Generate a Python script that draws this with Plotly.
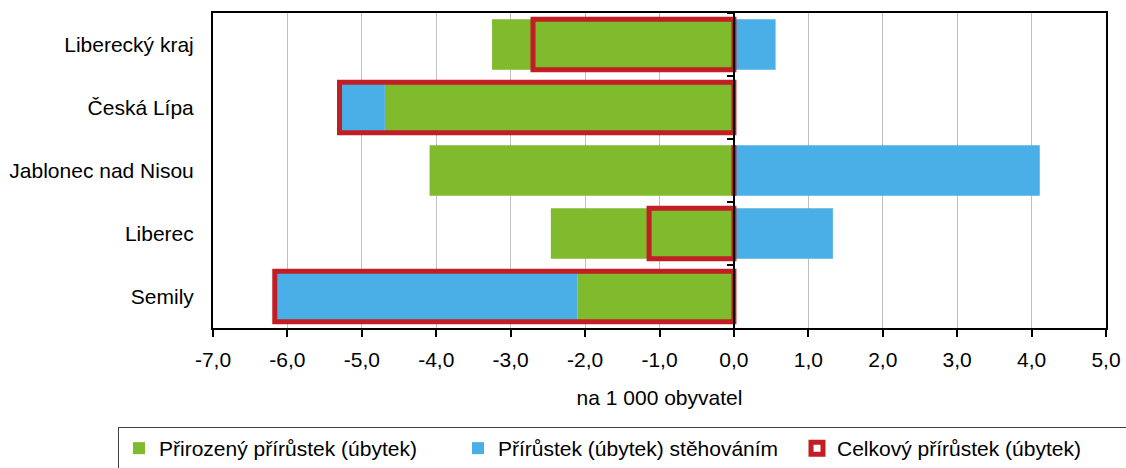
import plotly.graph_objects as go

categories = ["Liberecký kraj", "Česká Lípa", "Jablonec nad Nisou", "Liberec", "Semily"]
natural = [-3.25, -4.69, -4.09, -2.46, -2.10]
migration = [0.56, -0.60, 4.11, 1.33, -4.06]
total = [-2.70, -5.30, 0.0, -1.14, -6.17]
tick_vals = [-7, -6, -5, -4, -3, -2, -1, 0, 1, 2, 3, 4, 5]
tick_text = ["-7,0", "-6,0", "-5,0", "-4,0", "-3,0", "-2,0", "-1,0", "0,0", "1,0", "2,0", "3,0", "4,0", "5,0"]
names = ["Přirozený přírůstek (úbytek)", "Přírůstek (úbytek) stěhováním", "Celkový přírůstek (úbytek)"]

GREEN = "#80BA2D"
BLUE = "#49AFE6"
RED = "#C11E26"
FONT = "Liberation Sans, Arial, sans-serif"
FS = 21

W, H = 1126, 468
ML, MR, MT, MB = 213, 20, 13, 140
xmin, xmax = -7, 5
zero_pos = (0 - xmin) / (xmax - xmin)
PW, PH = W - ML - MR, H - MT - MB

fig = go.Figure()
fig.add_trace(go.Bar(y=categories, x=natural, orientation="h", name=names[0],
                     marker=dict(color=GREEN, line=dict(width=0))))
fig.add_trace(go.Bar(y=categories, x=migration, orientation="h", name=names[1],
                     marker=dict(color=BLUE, line=dict(width=0))))
fig.add_trace(go.Bar(y=categories, x=total, orientation="h", name=names[2], yaxis="y2",
                     marker=dict(color="rgba(255,255,255,0)", line=dict(color=RED, width=5))))

fig.update_layout(
    width=W, height=H,
    margin=dict(l=ML, r=MR, t=MT, b=MB, autoexpand=False),
    barmode="relative",
    bargap=0.2,
    plot_bgcolor="white", paper_bgcolor="white",
    font=dict(family=FONT, size=FS, color="black"),
    showlegend=True,
    legend=dict(
        orientation="h",
        x=(118 - ML) / PW, xanchor="left",
        y=-(427 - (H - MB)) / PH, yanchor="top",
        bordercolor="#404040", borderwidth=1,
        font=dict(family=FONT, size=FS, color="black"),
        entrywidth=294, entrywidthmode="pixels",
        itemwidth=30,
    ),
    xaxis=dict(
        range=[xmin, xmax],
        tickvals=tick_vals, ticktext=tick_text,
        showgrid=True, gridcolor="#C0C0C0", gridwidth=1,
        zeroline=False,
        showline=True, linecolor="black", linewidth=2, mirror=True,
        ticks="outside", ticklen=7, tickwidth=2, tickcolor="black",
        ticklabelstandoff=5,
        title=dict(text="na 1 000 obyvatel", standoff=20, font=dict(size=FS)),
    ),
    yaxis=dict(
        categoryorder="array", categoryarray=categories,
        autorange="reversed",
        showgrid=False, zeroline=False,
        showline=True, linecolor="black", linewidth=2, mirror=True,
        ticks="", ticklabelstandoff=13,
    ),
    yaxis2=dict(
        overlaying="y", matches="y", anchor="free", position=zero_pos,
        showticklabels=False, showgrid=False, zeroline=False,
        showline=True, linecolor="black", linewidth=2,
        ticks="outside", tickson="boundaries", ticklen=6, tickwidth=2, tickcolor="black",
        layer="above traces",
    ),
)

fig.write_html("out.html", config={"displayModeBar": False},
               post_script="document.body.style.margin='0';")
